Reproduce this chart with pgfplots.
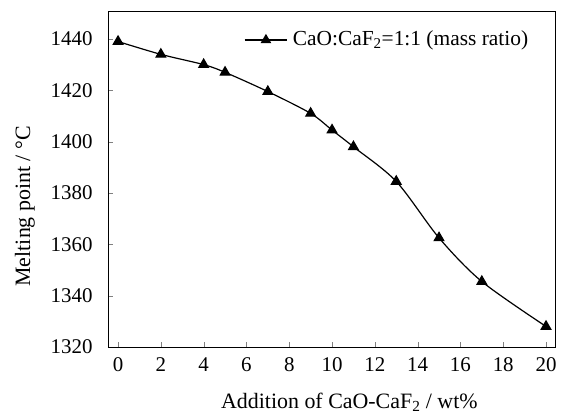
\documentclass[border=0pt]{standalone}
\usepackage{fontspec}
\setmainfont{Liberation Serif}
\usepackage{pgfplots}
\pgfplotsset{compat=1.18}

\begin{document}
\fontsize{22}{26}\selectfont
\begin{tikzpicture}
  \begin{axis}[
    name=main,
    scale only axis,
    width=447bp, height=335bp,
    xmin=-0.47, xmax=20.42,
    ymin=1320, ymax=1450.5,
    xtick={0,2,...,20},
    ytick={1320,1340,...,1440},
    tick align=inside,
    tick pos=left,
    major tick length=5pt,
    /pgf/number format/assume math mode=true,
    /pgf/number format/set thousands separator={},
    ticklabel style={font=\fontsize{21}{24}\selectfont},
    xticklabel style={anchor=center, yshift=-18bp},
    yticklabel style={anchor=east, xshift=-8bp},
    xlabel={Addition of CaO-CaF\textsubscript{2} / wt\%},
    ylabel={Melting point / \textdegree C},
    label style={font=\fontsize{22}{26}\selectfont},
    xlabel style={at={(axis description cs:0.54,0)}, anchor=center, yshift=-55bp},
    ylabel style={at={([xshift=-83bp]axis description cs:0,0.42)}, anchor=center},
    axis line style={line width=1pt},
    legend style={draw=none, fill=none, at={(0.945,0.95)}, anchor=north east,
      font=\fontsize{21.5}{25}\selectfont, inner sep=0pt},
    legend cell align=left,
    legend image code/.code={
      \draw[line width=1.2pt] (0cm,0cm) -- (1.5cm,0cm);
      \draw[mark size=5pt] plot coordinates {(0.75cm,0cm)};
    },
  ]
  \addplot[black, line width=1.2pt, smooth, mark=triangle*, mark size=5.5pt]
    coordinates {
      (0,1439) (2,1434) (4,1430) (5,1427) (7,1419.5) (9,1411)
      (10,1404.5) (11,1398) (13,1384.5) (15,1362.5) (17,1345.5) (20,1328)
    };
  \addlegendentry{\hspace{3pt}CaO:CaF\textsubscript{2}=1:1 (mass ratio)}
  \end{axis}
  \pgfresetboundingbox
  \path (main.south west) ++(-108bp,-69bp) rectangle ++(567bp,416bp);
\end{tikzpicture}
\end{document}
